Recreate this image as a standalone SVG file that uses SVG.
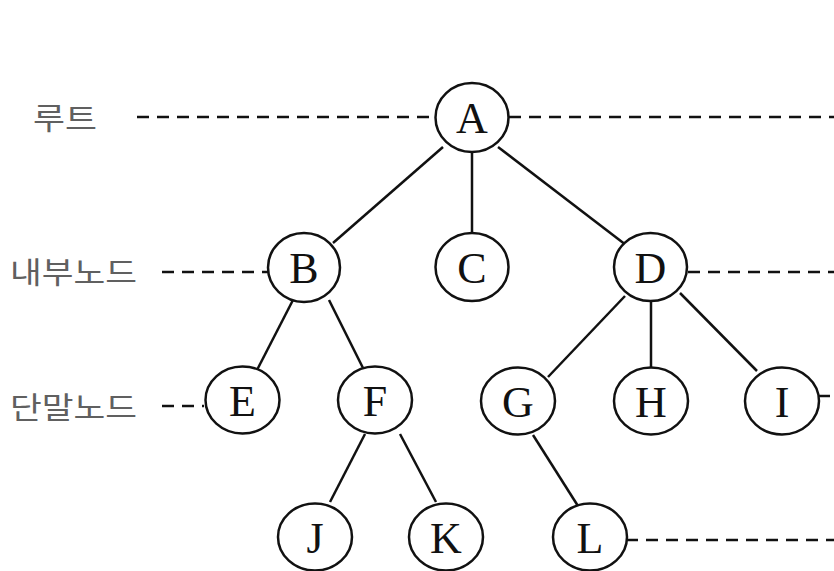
<svg xmlns="http://www.w3.org/2000/svg" width="834" height="571" viewBox="0 0 834 571">
<style>
.n ellipse{fill:#fff;stroke:#111;stroke-width:2.5}
.n text{font-family:"Liberation Serif",serif;font-size:44px;fill:#111;text-anchor:middle}
.e line{stroke:#111;stroke-width:2.5}
.d line{stroke:#111;stroke-width:2.5;stroke-dasharray:12 8}
.lb{font-family:"Noto Sans CJK KR","Noto Sans",sans-serif;font-size:30px;fill:#606060}
</style>
<rect width="834" height="571" fill="#fff"/>
<g id="labels">
<text class="lb" x="33" y="129" textLength="64" lengthAdjust="spacingAndGlyphs">루트</text>
<text class="lb" x="10" y="283" textLength="127" lengthAdjust="spacingAndGlyphs">내부노드</text>
<text class="lb" x="10" y="418" textLength="127" lengthAdjust="spacingAndGlyphs">단말노드</text>
</g>
<g id="connectors">
<g class="d">
<line x1="137" y1="117" x2="436" y2="117"/>
<line x1="509" y1="117" x2="834" y2="117"/>
<line x1="162" y1="272" x2="268" y2="272"/>
<line x1="688" y1="272" x2="834" y2="272"/>
<line x1="162" y1="406" x2="204" y2="406"/>
<line x1="818" y1="396" x2="834" y2="396"/>
<line x1="626" y1="540" x2="834" y2="540"/>
</g>
<g class="e">
<line x1="443" y1="147" x2="333" y2="243"/>
<line x1="472" y1="152" x2="472" y2="233"/>
<line x1="498" y1="147" x2="626" y2="245"/>
<line x1="293" y1="300" x2="257" y2="370"/>
<line x1="329" y1="300" x2="364" y2="370"/>
<line x1="625" y1="296" x2="548" y2="377"/>
<line x1="651" y1="301" x2="651" y2="368"/>
<line x1="680" y1="293" x2="757" y2="371"/>
<line x1="365" y1="434" x2="330" y2="502"/>
<line x1="400" y1="434" x2="436" y2="502"/>
<line x1="533" y1="435" x2="578" y2="506"/>
</g>
</g>
<g id="A" class="n"><ellipse cx="472" cy="117.5" rx="36.5" ry="34.5"/><text x="472" y="133">A</text></g>
<g id="B" class="n"><ellipse cx="304" cy="267.5" rx="36" ry="34.5"/><text x="304" y="283">B</text></g>
<g id="C" class="n"><ellipse cx="472" cy="267" rx="36.5" ry="34"/><text x="472" y="283">C</text></g>
<g id="D" class="n"><ellipse cx="650.5" cy="267" rx="36.5" ry="34"/><text x="650.5" y="283">D</text></g>
<g id="E" class="n"><ellipse cx="242.5" cy="400" rx="37" ry="33.5"/><text x="242.5" y="416">E</text></g>
<g id="F" class="n"><ellipse cx="375" cy="400" rx="37" ry="33.5"/><text x="375" y="416">F</text></g>
<g id="G" class="n"><ellipse cx="518" cy="401" rx="37" ry="33.5"/><text x="518" y="417">G</text></g>
<g id="H" class="n"><ellipse cx="651" cy="401" rx="37" ry="33.5"/><text x="651" y="417">H</text></g>
<g id="I" class="n"><ellipse cx="782" cy="401" rx="37" ry="33.5"/><text x="782" y="417">I</text></g>
<g id="J" class="n"><ellipse cx="315" cy="537" rx="37" ry="33.5"/><text x="315" y="553">J</text></g>
<g id="K" class="n"><ellipse cx="446" cy="537" rx="37" ry="33.5"/><text x="446" y="553">K</text></g>
<g id="L" class="n"><ellipse cx="590" cy="537" rx="37" ry="33.5"/><text x="590" y="553">L</text></g>
</svg>
